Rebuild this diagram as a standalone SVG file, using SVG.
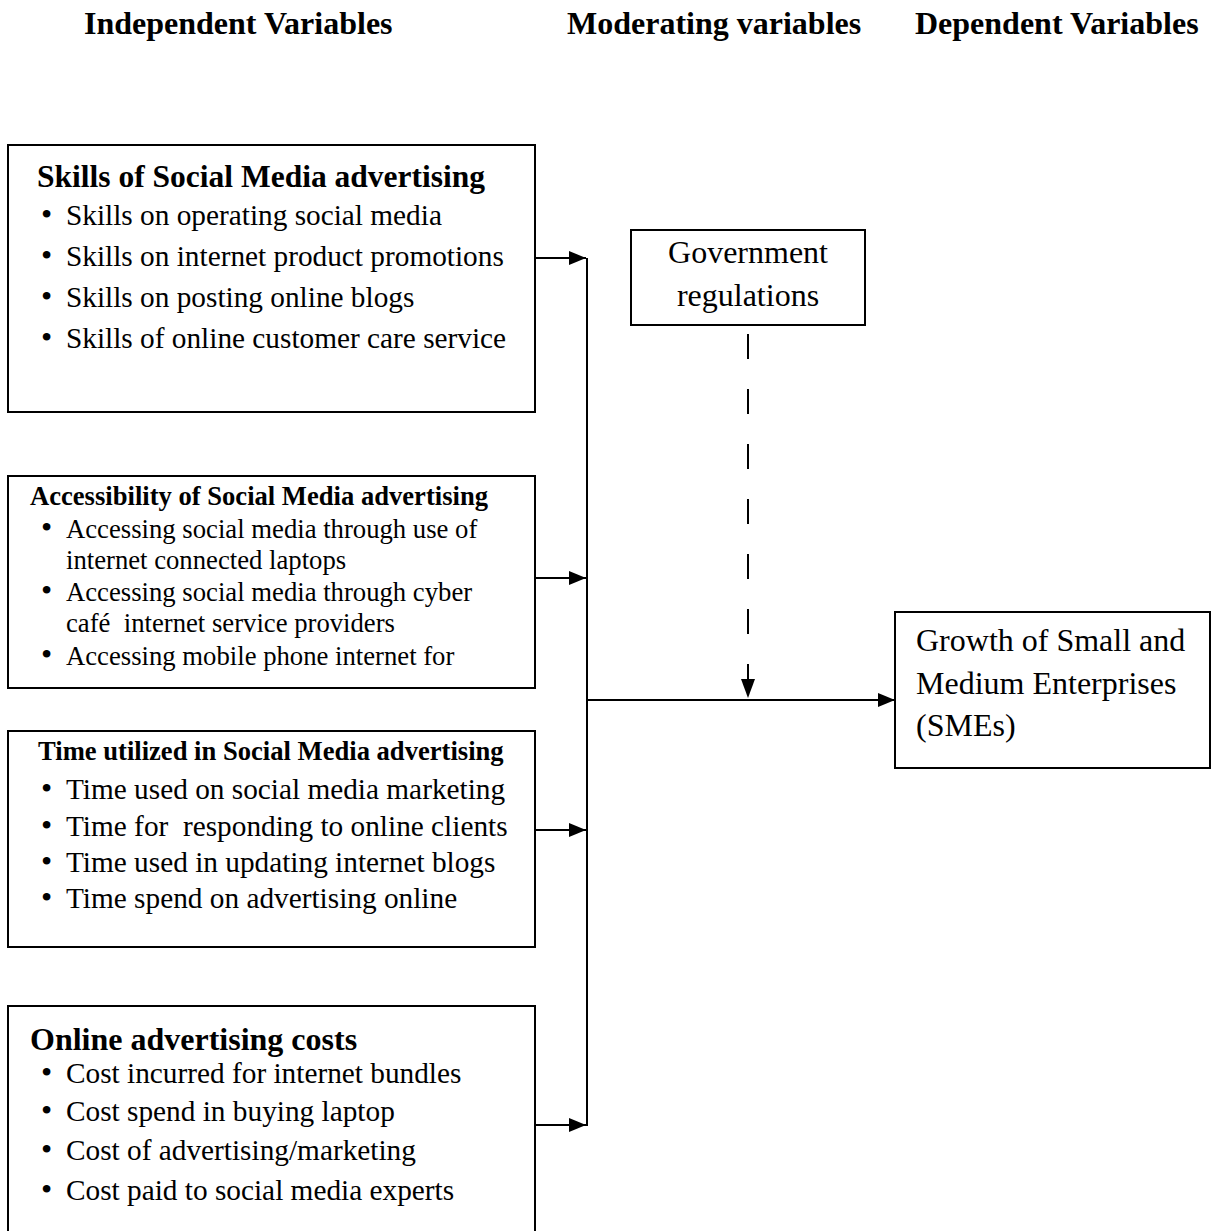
<svg xmlns="http://www.w3.org/2000/svg" width="1212" height="1231" viewBox="0 0 1212 1231">
<style>
text{font-family:"Liberation Serif","Times New Roman",serif;fill:#000}
.h{font-weight:bold;font-size:32px}
.t1{font-weight:bold;font-size:31.5px}
.t2{font-weight:bold;font-size:26.6px}
.b{font-size:29.3px}
.bs{font-size:26.7px}
.big{font-size:32px}
.dot{font-size:32px}
.box{fill:#fff;stroke:#000;stroke-width:2}
.ln{fill:none;stroke:#000;stroke-width:2}
</style>
<defs>
<marker id="ah" markerWidth="17" markerHeight="14" refX="17" refY="7" orient="auto" markerUnits="userSpaceOnUse">
<path d="M0,0 L17,7 L0,14 z" fill="#000"/>
</marker>
<marker id="ahd" markerWidth="19" markerHeight="14" refX="19" refY="7" orient="auto" markerUnits="userSpaceOnUse">
<path d="M0,0 L19,7 L0,14 z" fill="#000"/>
</marker>
</defs>
<g id="headers">
<text class="h" x="84" y="34">Independent Variables</text>
<text class="h" x="567" y="34">Moderating variables</text>
<text class="h" x="915" y="34">Dependent Variables</text>
</g>
<g id="connectors">
<line class="ln" x1="535" y1="258" x2="586" y2="258" marker-end="url(#ah)"/>
<line class="ln" x1="535" y1="578" x2="586" y2="578" marker-end="url(#ah)"/>
<line class="ln" x1="535" y1="830" x2="586" y2="830" marker-end="url(#ah)"/>
<line class="ln" x1="535" y1="1125" x2="586" y2="1125" marker-end="url(#ah)"/>
<line class="ln" x1="587" y1="258" x2="587" y2="1126"/>
<line class="ln" x1="587" y1="700" x2="895" y2="700" marker-end="url(#ah)"/>
<line class="ln" x1="748" y1="334" x2="748" y2="698" stroke-dasharray="25,30" marker-end="url(#ahd)"/>
</g>
<g id="skills">
<rect class="box" x="8" y="145" width="527" height="267"/>
<text class="t1" x="37" y="187">Skills of Social Media advertising</text>
<text class="b" y="225"><tspan class="dot" x="41">•</tspan><tspan x="66">Skills on operating social media</tspan></text>
<text class="b" y="266"><tspan class="dot" x="41">•</tspan><tspan x="66">Skills on internet product promotions</tspan></text>
<text class="b" y="307"><tspan class="dot" x="41">•</tspan><tspan x="66">Skills on posting online blogs</tspan></text>
<text class="b" y="348"><tspan class="dot" x="41">•</tspan><tspan x="66">Skills of online customer care service</tspan></text>
</g>
<g id="accessibility">
<rect class="box" x="8" y="476" width="527" height="212"/>
<text class="t2" x="30" y="505">Accessibility of Social Media advertising</text>
<text class="bs" y="538"><tspan class="dot" x="41">•</tspan><tspan x="66">Accessing social media through use of</tspan></text>
<text class="bs" x="66" y="569">internet connected laptops</text>
<text class="bs" y="601"><tspan class="dot" x="41">•</tspan><tspan x="66">Accessing social media through cyber</tspan></text>
<text class="bs" x="66" y="632" xml:space="preserve">café  internet service providers</text>
<text class="bs" y="665"><tspan class="dot" x="41">•</tspan><tspan x="66">Accessing mobile phone internet for</tspan></text>
</g>
<g id="time">
<rect class="box" x="8" y="731" width="527" height="216"/>
<text class="t2" x="38" y="760">Time utilized in Social Media advertising</text>
<text class="b" y="799"><tspan class="dot" x="41">•</tspan><tspan x="66">Time used on social media marketing</tspan></text>
<text class="b" y="836" xml:space="preserve"><tspan class="dot" x="41">•</tspan><tspan x="66">Time for  responding to online clients</tspan></text>
<text class="b" y="872"><tspan class="dot" x="41">•</tspan><tspan x="66">Time used in updating internet blogs</tspan></text>
<text class="b" y="908"><tspan class="dot" x="41">•</tspan><tspan x="66">Time spend on advertising online</tspan></text>
</g>
<g id="costs">
<rect class="box" x="8" y="1006" width="527" height="240"/>
<text class="t1" x="30" y="1050" style="font-size:32px">Online advertising costs</text>
<text class="b" y="1083"><tspan class="dot" x="41">•</tspan><tspan x="66">Cost incurred for internet bundles</tspan></text>
<text class="b" y="1121"><tspan class="dot" x="41">•</tspan><tspan x="66">Cost spend in buying laptop</tspan></text>
<text class="b" y="1160"><tspan class="dot" x="41">•</tspan><tspan x="66">Cost of advertising/marketing</tspan></text>
<text class="b" y="1200"><tspan class="dot" x="41">•</tspan><tspan x="66">Cost paid to social media experts</tspan></text>
</g>
<g id="government">
<rect class="box" x="631" y="230" width="234" height="95"/>
<text class="big" x="748" y="263" text-anchor="middle">Government</text>
<text class="big" x="748" y="306" text-anchor="middle">regulations</text>
</g>
<g id="smes">
<rect class="box" x="895" y="612" width="315" height="156"/>
<text class="big" x="916" y="651">Growth of Small and</text>
<text class="big" x="916" y="694">Medium Enterprises</text>
<text class="big" x="916" y="736">(SMEs)</text>
</g>
</svg>
